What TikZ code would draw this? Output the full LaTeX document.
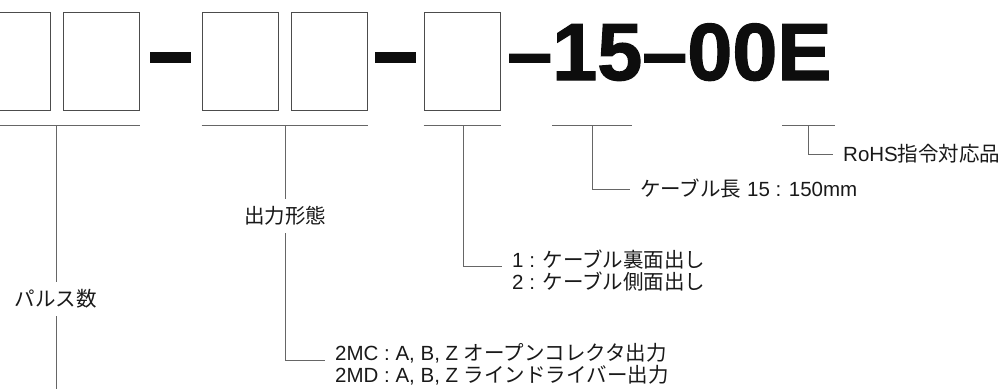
\documentclass[tikz,border=0pt]{standalone}
\usepackage{fontspec}
\usepackage{tikz}
\setmainfont{Liberation Sans}
\newfontfamily\jp{Noto Sans CJK JP}
\newfontfamily\heavy[FakeBold=1.5]{Liberation Sans Bold}

\begin{document}
\begin{tikzpicture}[x=1pt,y=-1pt,
	slot/.style={rectangle,draw=black!70,line width=1pt,minimum width=76pt,minimum height=98pt,inner sep=0pt},
	sepbar/.style={rectangle,fill=black!95,minimum width=41pt,minimum height=11pt,inner sep=0pt},
	lead/.style={draw=black!60,line width=1pt},
	lbl/.style={anchor=west,align=left,inner xsep=10pt,inner ysep=0pt,text=black!90,font=\fontsize{20.5}{22}\selectfont},
	mid/.style={inner xsep=0pt,inner ysep=7.5pt,text=black!90,font=\fontsize{20.5}{22}\selectfont}]
	\useasboundingbox (0,0) rectangle (1002,389);
	% code boxes
	\node[slot] (b1) at (12,61) {};
	\node[slot] (b2) at (101,61) {};
	\node[sepbar] (d1) at (170.5,57.5) {};
	\node[slot] (b3) at (240,61) {};
	\node[slot] (b4) at (329,61) {};
	\node[sepbar] (d2) at (395.5,57.5) {};
	\node[slot] (b5) at (462,61) {};
	\node[anchor=base west,inner sep=0pt,text=black!95] (code) at (507,80) {\heavy\fontsize{81}{81}\selectfont \char"2013 15\char"2013 00E};
	% underlines
	\coordinate (s1) at (56,125);
	\coordinate (s2) at (285,125);
	\coordinate (s3) at (463,125);
	\coordinate (s4) at (592,125);
	\coordinate (s5) at (808,125);
	\coordinate (foot) at (56,389);
	\draw[lead] ([yshift=-15pt]b1.south west) -- ([yshift=-15pt]b2.south east);
	\draw[lead] ([yshift=-15pt]b3.south west) -- ([yshift=-15pt]b4.south east);
	\draw[lead] ([yshift=-15pt]b5.south west) -- ([yshift=-15pt]b5.south east);
	\draw[lead] ([xshift=-40pt]s4) -- ([xshift=40pt]s4);
	\draw[lead] ([xshift=-26pt]s5) -- ([xshift=27pt]s5);
	% labels
	\node[mid] (pulse) at (56,299) {{\jp パルス数}};
	\node[mid] (form) at (285,216) {{\jp 出力形態}};
	\node[lbl] (types) at (325,364.5) {2MC : A, B, Z {\jp オープンコレクタ出力}\\2MD : A, B, Z {\jp ラインドライバー出力}};
	\node[lbl] (exit) at (502,270.5) {1 : {\jp ケーブル裏面出し}\\2 : {\jp ケーブル側面出し}};
	\node[lbl] (len) at (630,189) {{\jp ケーブル長} 15 : 150mm};
	\node[lbl] (rohs) at (833,154) {RoHS{\jp 指令対応品}};
	% leaders
	\draw[lead] (s1) -- (pulse);
	\draw[lead] (pulse) -- (foot);
	\draw[lead] (s2) -- (form);
	\draw[lead] (form) |- ([yshift=4pt]types.west);
	\draw[lead] (s3) |- ([yshift=4pt]exit.west);
	\draw[lead] (s4) |- (len.west);
	\draw[lead] (s5) |- (rohs.west);
\end{tikzpicture}
\end{document}
